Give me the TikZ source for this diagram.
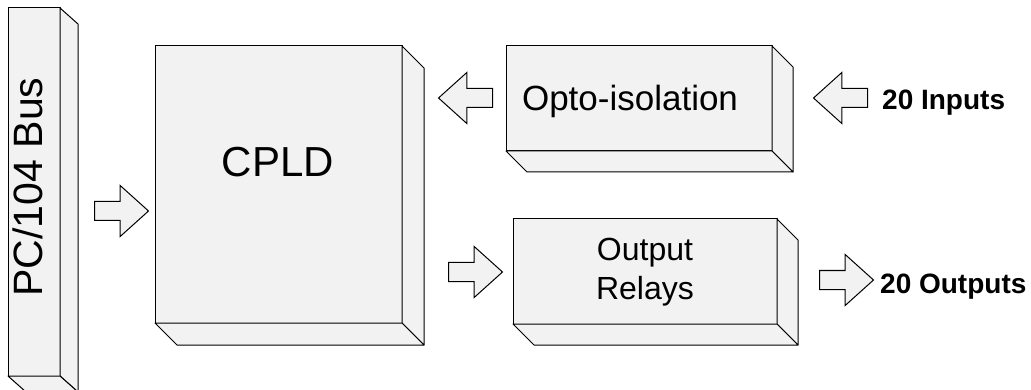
\documentclass[tikz,border=0pt]{standalone}
\usepackage{fontspec}
\setmainfont{Liberation Sans}
\usetikzlibrary{shapes.arrows}
\definecolor{boxgray}{HTML}{F2F2F2}

\begin{document}
\begin{tikzpicture}[x=1pt,y=1pt,yscale=-1,xscale=1,
  face/.style={draw=black,fill=boxgray,line width=1pt,line join=round},
  label/.style={inner sep=0pt},
  fatarrow/.style={single arrow,draw=black,fill=boxgray,line width=1pt,inner sep=0pt,
    text height=9pt,text depth=9pt,minimum height=54pt,
    single arrow head extend=16pt,single arrow tip angle=84}]
\useasboundingbox (0,0) rectangle (1031,390);

%Shape: Cube [PC/104 Bus]
\draw[face] (8,8) rectangle (60,376) ;
\draw[face] (60,8) -- (78,24) -- (78,392) -- (60,376) -- cycle ;
\draw[face] (8,376) -- (60,376) -- (78,392) -- (26,392) -- cycle ;
%Shape: Cube [CPLD]
\draw[face] (155,46) rectangle (402,323) ;
\draw[face] (402,46) -- (424,68) -- (424,345) -- (402,323) -- cycle ;
\draw[face] (155,323) -- (402,323) -- (424,345) -- (177,345) -- cycle ;
%Shape: Cube [Opto-isolation]
\draw[face] (506,46) rectangle (772,151) ;
\draw[face] (772,46) -- (793,67) -- (793,172) -- (772,151) -- cycle ;
\draw[face] (506,151) -- (772,151) -- (793,172) -- (527,172) -- cycle ;
%Shape: Cube [Output Relays]
\draw[face] (513,219) rectangle (777,324) ;
\draw[face] (777,219) -- (798,240) -- (798,345) -- (777,324) -- cycle ;
\draw[face] (513,324) -- (777,324) -- (798,345) -- (534,345) -- cycle ;

%Text
\node[label,font=\fontsize{41}{49}\selectfont,rotate=90,anchor=base] (bus) at (42,187) {PC/104 Bus};
\node[label,font=\fontsize{42}{50}\selectfont,anchor=base] (cpld) at (278,177) {CPLD};
\node[label,font=\fontsize{35}{42}\selectfont,anchor=base] (opto) at (630,111) {Opto-isolation};
\node[label,font=\fontsize{32}{39}\selectfont,align=center] (relays) at (645,272) {Output\\Relays};
\node[label,font=\bfseries\fontsize{28}{34}\selectfont,anchor=base west] (inputs) at (882,110) {20 Inputs};
\node[label,font=\bfseries\fontsize{28}{34}\selectfont,anchor=base west] (outputs) at (880,293) {20 Outputs};

%Block Arrows
\node[fatarrow,anchor=tail] (busarrow) at (94,211) {};
\node[fatarrow,shape border rotate=180,anchor=tail] (optoarrow) at (493,98) {};
\node[fatarrow,shape border rotate=180,anchor=tail] (inarrow) at (868,98) {};
\node[fatarrow,anchor=tail] (relayarrow) at (448,272) {};
\node[fatarrow,anchor=tail] (outarrow) at (819,280) {};

\end{tikzpicture}
\end{document}
